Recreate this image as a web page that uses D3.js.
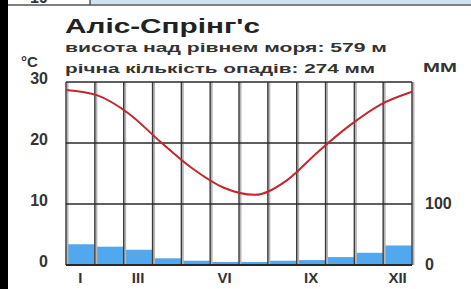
<!DOCTYPE html>
<html>
<head>
<meta charset="utf-8">
<script src="https://cdn.jsdelivr.net/npm/d3@7"></script>
<style>
  body { margin: 0; background: #fff; }
  svg { display: block; font-family: "Liberation Sans", Arial, sans-serif; }
</style>
</head>
<body>
<svg id="chart" width="471" height="289"></svg>
<script>
// monthly data
var months = ["I", "II", "III", "IV", "V", "VI", "VII", "VIII", "IX", "X", "XI", "XII"];
var monthLabels = ["I", "III", "VI", "IX", "XII"];
var temps = [28.7, 27.8, 24.8, 20.2, 15.9, 12.7, 11.5, 13.8, 18.5, 22.8, 26.3, 28.4];
var precip = [34, 30, 25, 11, 7, 5, 5, 7, 8, 13, 20, 32];
var tempTicks = [0, 10, 20, 30];
var precipTicks = [0, 100];

var svg = d3.select("#chart"),
    margin = {top: 82, right: 59, bottom: 24, left: 66},
    width = +svg.attr("width") - margin.left - margin.right,
    height = +svg.attr("height") - margin.top - margin.bottom;

// frame pieces round the chart
svg.append("rect").attr("x", 90).attr("y", 0).attr("width", 381).attr("height", 4).attr("fill", "#cfe2f2");
svg.append("line").attr("x1", 8).attr("x2", 471).attr("y1", 5).attr("y2", 5).attr("stroke", "#555").attr("stroke-width", 1.5);
svg.append("line").attr("x1", 90).attr("x2", 90).attr("y1", 0).attr("y2", 5).attr("stroke", "#555").attr("stroke-width", 1.5);
svg.append("rect").attr("x", 0).attr("y", 0).attr("width", 8).attr("height", 289).attr("fill", "#000");

var g = svg.append("g").attr("transform", "translate(" + margin.left + "," + margin.top + ")");

var x = d3.scaleBand().domain(months).range([0, width]).paddingInner(0).paddingOuter(0);
var xLine = d3.scalePoint().domain(months).range([0, width]);
var yT = d3.scaleLinear().domain([0, 30]).range([height, 0]);
var yP = d3.scaleLinear().domain([0, 300]).range([height, 0]);

// precipitation bars
g.append("g")
    .selectAll("rect")
    .data(precip)
    .enter().append("rect")
    .attr("x", function (d, i) { return x(months[i]); })
    .attr("y", function (d) { return yP(d); })
    .attr("width", x.bandwidth())
    .attr("height", function (d) { return yP(0) - yP(d); })
    .attr("fill", "#52a8ee");

// vertical month lines
var bounds = months.map(function (m) { return x(m); }).concat([width]);
g.append("g")
    .selectAll("line")
    .data(bounds)
    .enter().append("line")
    .attr("x1", function (d) { return d + 1; })
    .attr("x2", function (d) { return d + 1; })
    .attr("y1", 0).attr("y2", height)
    .attr("stroke", "#b5b5b5").attr("stroke-width", 3);
g.append("g")
    .selectAll("line")
    .data(bounds)
    .enter().append("line")
    .attr("x1", function (d) { return d; })
    .attr("x2", function (d) { return d; })
    .attr("y1", 0).attr("y2", height)
    .attr("stroke", "#3a3a3a").attr("stroke-width", 1.3);

// horizontal grid
g.append("g")
    .selectAll("line")
    .data(tempTicks)
    .enter().append("line")
    .attr("x1", 0).attr("x2", width)
    .attr("y1", function (d) { return yT(d); })
    .attr("y2", function (d) { return yT(d); })
    .attr("stroke", "#2a2a2a").attr("stroke-width", function (d) { return d === 0 ? 2 : 1.3; });

// temperature line
var line = d3.line()
    .curve(d3.curveMonotoneX)
    .x(function (d, i) { return xLine(months[i]); })
    .y(function (d) { return yT(d); });

g.append("path")
    .datum(temps)
    .attr("d", line)
    .attr("fill", "none")
    .attr("stroke", "#c4262c")
    .attr("stroke-width", 2);

// axes
var leftAxis = g.append("g")
    .call(d3.axisLeft(yT).tickValues(tempTicks).tickSize(0).tickPadding(18));
var rightAxis = g.append("g")
    .attr("transform", "translate(" + width + ",0)")
    .call(d3.axisRight(yP).tickValues(precipTicks).tickSize(0).tickPadding(13));
var bottomAxis = g.append("g")
    .attr("transform", "translate(0," + height + ")")
    .call(d3.axisBottom(x).tickValues(monthLabels).tickSize(0).tickPadding(7));

[leftAxis, rightAxis, bottomAxis].forEach(function (a) {
    a.select(".domain").remove();
    a.selectAll("text")
        .attr("fill", "#333")
        .attr("font-size", 16)
        .attr("font-weight", "bold")
        .attr("font-family", "Liberation Sans, Arial, sans-serif");
});
leftAxis.selectAll("text").attr("dy", "0.12em");
rightAxis.selectAll("text").attr("dy", "0.25em");
bottomAxis.selectAll("text").attr("font-size", 15);

// titles
svg.append("text")
    .attr("x", 65).attr("y", 33)
    .attr("font-size", 21)
    .attr("font-weight", "bold")
    .attr("fill", "#222")
    .attr("textLength", 195).attr("lengthAdjust", "spacingAndGlyphs")
    .text("Аліс-Спрінг'с");

svg.append("text")
    .attr("x", 65).attr("y", 52)
    .attr("font-size", 13).attr("font-weight", "bold")
    .attr("fill", "#333")
    .attr("textLength", 322).attr("lengthAdjust", "spacingAndGlyphs")
    .text("висота над рівнем моря: 579 м");

svg.append("text")
    .attr("x", 65).attr("y", 73)
    .attr("font-size", 13).attr("font-weight", "bold")
    .attr("fill", "#333")
    .attr("textLength", 310).attr("lengthAdjust", "spacingAndGlyphs")
    .text("річна кількість опадів: 274 мм");

svg.append("text")
    .attr("x", 21).attr("y", 67)
    .attr("font-size", 15).attr("font-weight", "bold")
    .attr("fill", "#333")
    .text("°C");

svg.append("text")
    .attr("x", 423).attr("y", 72)
    .attr("font-size", 12).attr("font-weight", "bold")
    .attr("fill", "#333")
    .attr("textLength", 34).attr("lengthAdjust", "spacingAndGlyphs")
    .text("ММ");

// label of the top-left box, mostly outside the picture
svg.append("text")
    .attr("x", 30).attr("y", 3)
    .attr("font-size", 16).attr("font-weight", "bold")
    .attr("fill", "#333")
    .text("19");
</script>
</body>
</html>
